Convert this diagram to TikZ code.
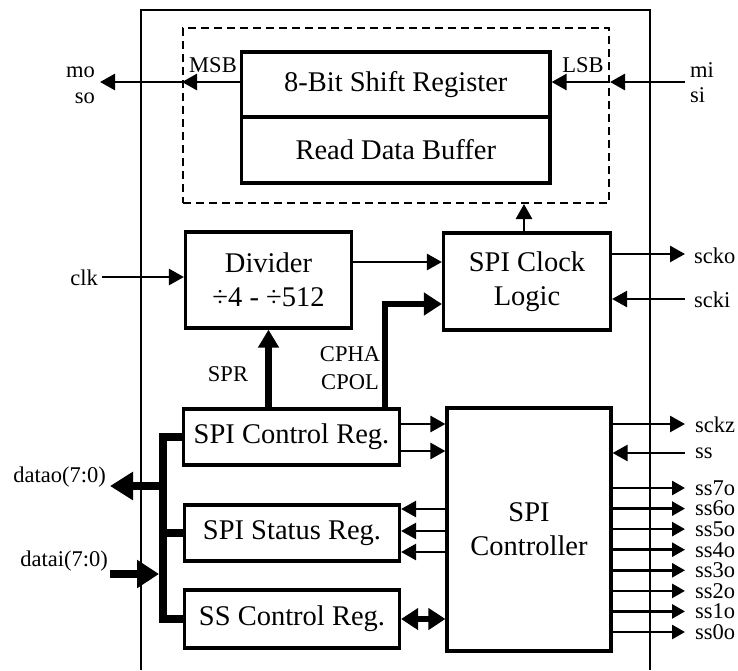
\documentclass[tikz,border=0pt]{standalone}
\usepackage{fontspec}
\setmainfont{Liberation Serif}
\usetikzlibrary{arrows.meta,calc}
\newcommand\mainfs{\fontsize{28.5}{34}\selectfont}
\newcommand\smallfs{\fontsize{22.5}{26}\selectfont}
\begin{document}
\begin{tikzpicture}[x=1pt,y=-1pt,
  box/.style={draw,line width=3.2pt,inner sep=0pt,align=center,font=\mainfs},
  lbl/.style={inner sep=0pt,font=\smallfs},
  arr/.style={line width=2.7pt,-{Triangle[length=15pt,width=16pt]}},
  sarr/.style={line width=2.7pt,-{Triangle[length=13pt,width=14pt]}},
  bus/.style={line width=8pt},
  ]
\useasboundingbox (0,0) rectangle (738,670);
\fill[white] (0,0) rectangle (738,670);
% outer frame (open at the bottom)
\draw[line width=2pt] (141,670) -- (141,10) -- (650,10) -- (650,670);
% dashed group
\node[draw,line width=2pt,dash pattern=on 8pt off 5pt,minimum width=426pt,minimum height=175pt,inner sep=0pt] (grp) at (396,115.5) {};
\node[box,minimum width=308.5pt,minimum height=65pt] (sr) at (395.75,84.5) {8-Bit Shift Register};
\node[box,minimum width=308.5pt,minimum height=66pt] (rdb) at (395.75,150) {Read Data Buffer};
% blocks
\node[box,minimum width=166pt,minimum height=96pt] (div) at (268.5,280) {Divider\\÷4 - ÷512};
\node[box,minimum width=167pt,minimum height=97pt] (clock) at (527,281.5) {SPI Clock\\Logic};
\node[box,minimum width=216pt,minimum height=56pt] (ctrl) at (291.5,437) {SPI Control Reg.};
\node[box,minimum width=215pt,minimum height=56pt] (stat) at (292,533) {SPI Status Reg.};
\node[box,minimum width=215pt,minimum height=58pt] (ssc) at (292,619) {SS Control Reg.};
\node[box,minimum width=164pt,minimum height=243pt] (cont) at (529,529.5) {SPI\\Controller};
% free ends
\coordinate (moend) at (100,82);
\coordinate (miend) at (685,82);
\coordinate (clkin) at (102,277);
\coordinate (sckoend) at (685,254);
\coordinate (sckiin) at (685,299);
\coordinate (sckzend) at (685,424);
\coordinate (ssin) at (685,453);
\coordinate (daoend) at (110,486);
\coordinate (daiin) at (110,574);
\coordinate (busx) at (163,0);
\coordinate (busl) at (159,0);
% labels
\node[lbl,anchor=east] (mo) at (95,72) {mo};
\node[lbl,anchor=east] (so) at (95,98) {so};
\node[lbl] (msb) at (213,65.5) {MSB};
\node[lbl] (lsb) at (583,65.5) {LSB};
\node[lbl,anchor=west] (mi) at (690,70) {mi};
\node[lbl,anchor=west] (si) at (690,95) {si};
\node[lbl,anchor=east] (clk) at (98,278) {clk};
\node[lbl] (spr) at (228,374) {SPR};
\node[lbl] (cpha) at (350,354) {CPHA};
\node[lbl] (cpol) at (350,382.5) {CPOL};
\node[lbl,anchor=west] (scko) at (694,255.5) {scko};
\node[lbl,anchor=west] (scki) at (694,300) {scki};
\node[lbl,anchor=west] (sckz) at (695,424.5) {sckz};
\node[lbl,anchor=west] (ss) at (695,453) {ss};
\node[lbl,anchor=east] (datao) at (106,477) {datao(7:0)};
\node[lbl,anchor=east] (datai) at (108,561) {datai(7:0)};
% shift register connections
\draw[arr] (sr.west |- moend) -- (grp.west |- moend);
\draw[arr] (grp.west |- moend) -- (moend);
\draw[arr] (miend) -- (grp.east |- miend);
\draw[arr] (grp.east |- miend) -- (sr.east |- miend);
\draw[arr] ([xshift=-3pt]clock.north) -- ([xshift=-3pt]clock.north |- grp.south);
% divider / clock
\draw[arr] (clkin) -- (div.west |- clkin);
\draw[arr] (div.east |- 0,262) -- (clock.west |- 0,262);
\draw[line width=6.5pt,-{Triangle[length=18pt,width=22pt]}] (ctrl.north -| 385,0) |- (clock.west |- 0,304);
\draw[line width=7pt,-{Triangle[length=18pt,width=20pt]}] (ctrl.north -| div.south) -- (div.south);
\draw[arr] (clock.east |- sckoend) -- (sckoend);
\draw[arr] (sckiin) -- (clock.east |- sckiin);
% registers <-> controller
\draw[arr] (ctrl.east |- 0,424) -- (cont.west |- 0,424);
\draw[arr] (ctrl.east |- 0,451) -- (cont.west |- 0,451);
\draw[arr] (cont.west |- 0,509) -- (stat.east |- 0,509);
\draw[arr] (cont.west |- 0,531) -- (stat.east |- 0,531);
\draw[arr] (cont.west |- 0,552) -- (stat.east |- 0,552);
\draw[line width=6pt,{Triangle[length=17pt,width=21pt]}-{Triangle[length=17pt,width=21pt]}] (ssc.east |- 0,619) -- (cont.west |- 0,619);
% controller outputs
\draw[arr] (cont.east |- sckzend) -- (sckzend);
\draw[arr] (ssin) -- (cont.east |- ssin);
\foreach \n/\y in {7/488,6/508.6,5/529.1,4/549.7,3/570.3,2/590.9,1/611.4,0/632}{
  \coordinate (ss\n end) at (685,\y);
  \node[lbl,anchor=west] (ss\n o) at (695,\y) {ss\n o};
  \draw[sarr] (cont.east |- ss\n end) -- (ss\n end);
}
% data bus
\draw[bus] (ctrl.west) -- (busx |- ctrl.west) -- (busx |- ssc.west) -- (ssc.west);
\draw[bus] (busx |- stat.west) -- (stat.west);
\draw[bus,-{Triangle[length=23pt,width=27pt]}] (busx |- daoend) -- (daoend);
\draw[bus,-{Triangle[length=22pt,width=27pt]}] (daiin) -- (busl |- daiin);
\end{tikzpicture}
\end{document}
